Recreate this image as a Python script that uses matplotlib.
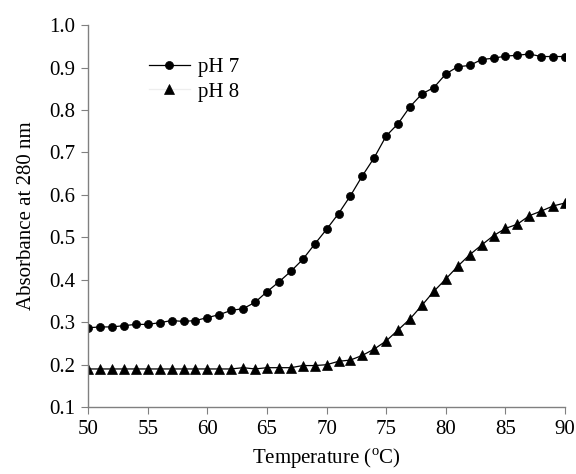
import matplotlib.pyplot as plt
from matplotlib.lines import Line2D
import numpy as np

plt.rcParams['font.family'] = ['Liberation Serif', 'DejaVu Serif']
plt.rcParams['mathtext.fontset'] = 'custom'
plt.rcParams['mathtext.rm'] = 'Liberation Serif'

# temperature (oC), one reading per degree
temp = np.arange(50, 91)

ph7 = [0.287, 0.289, 0.289, 0.292, 0.295, 0.295, 0.299, 0.304, 0.302, 0.304,
       0.311, 0.318, 0.328, 0.332, 0.347, 0.372, 0.395, 0.420, 0.448, 0.484,
       0.519, 0.556, 0.598, 0.645, 0.688, 0.739, 0.768, 0.808, 0.838, 0.853,
       0.885, 0.902, 0.905, 0.919, 0.922, 0.927, 0.929, 0.932, 0.926, 0.926,
       0.926]

ph8 = [0.190, 0.190, 0.190, 0.190, 0.190, 0.190, 0.190, 0.190, 0.190, 0.190,
       0.190, 0.190, 0.190, 0.193, 0.190, 0.193, 0.193, 0.193, 0.198, 0.198,
       0.200, 0.208, 0.211, 0.222, 0.237, 0.256, 0.282, 0.308, 0.340, 0.373,
       0.402, 0.432, 0.459, 0.482, 0.504, 0.521, 0.531, 0.551, 0.562, 0.574,
       0.581]

fig = plt.figure(figsize=(5.76, 4.74), dpi=100)
ax = fig.add_axes([0.153, 0.141, 0.828, 0.806])

ax.plot(temp, ph7, color='black', lw=0.9, marker='o', ms=5.8, mew=0.5, label='pH 7')
ax.plot(temp, ph8, color='black', lw=0.9, marker='^', ms=7.0, mew=0.5, label='pH 8')

ax.set_xlim(50, 90)
ax.set_ylim(0.1, 1.0)
ax.set_xticks(range(50, 91, 5))
ax.set_yticks(np.arange(0.1, 1.01, 0.1))
ax.yaxis.set_major_formatter(plt.FormatStrFormatter('%.1f'))

for s in ['top', 'right']:
    ax.spines[s].set_visible(False)
for s in ['left', 'bottom']:
    ax.spines[s].set_color('#808080')
    ax.spines[s].set_linewidth(1.0)
ax.tick_params(direction='out', length=5, color='#808080', labelsize=15, pad=4)

ax.set_xlabel('Temperature ($^{\\mathrm{o}}$C)', fontsize=15, labelpad=6)
ax.set_ylabel('Absorbance at 280 nm', fontsize=15, labelpad=10)

# legend: pH 8 line is drawn nearly white in the legend
handles = [Line2D([], [], color='black', lw=0.9, marker='o', ms=5.8, mew=0.5),
           Line2D([], [], color='#eeeeee', lw=0.9, marker='^', ms=7.0, mew=0.5,
                  markerfacecolor='black', markeredgecolor='black')]
ax.legend(handles, ['pH 7', 'pH 8'], loc='upper left',
          bbox_to_anchor=(0.24, 0.9), bbox_transform=fig.transFigure,
          frameon=False, fontsize=15, handlelength=2.0, handletextpad=0.35,
          labelspacing=0.22, borderpad=0)

plt.savefig('out.png', dpi=100)
